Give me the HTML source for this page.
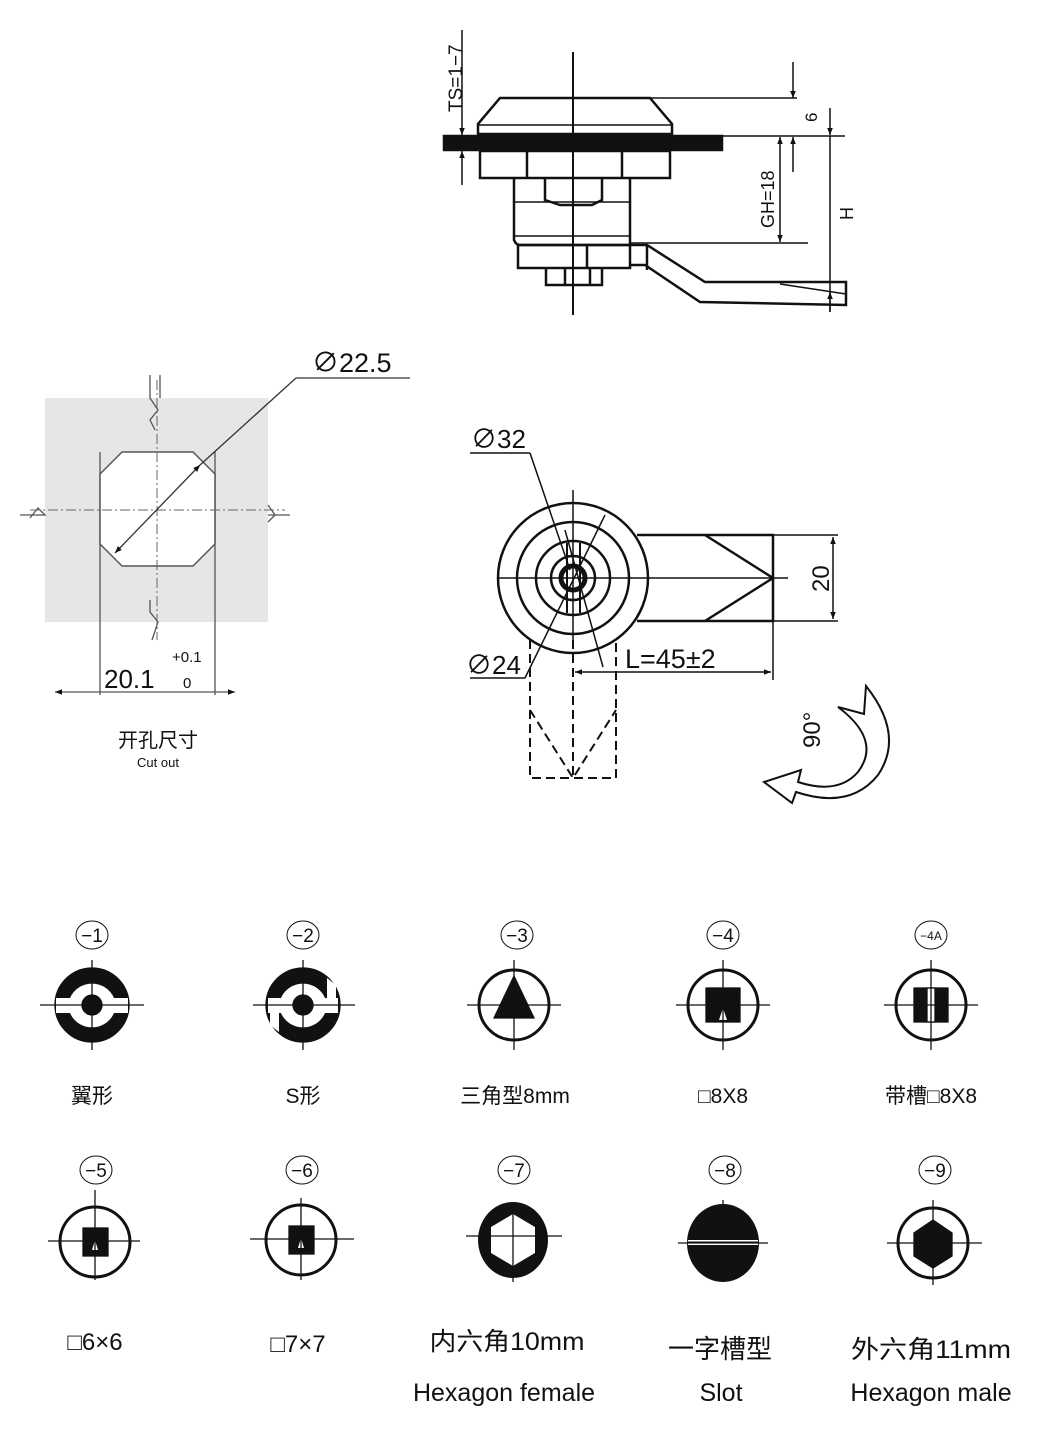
<!DOCTYPE html>
<html><head><meta charset="utf-8"><style>
html,body{margin:0;padding:0;background:#fff}
svg{display:block}
text{font-family:"Liberation Sans","Noto Sans CJK SC",sans-serif;fill:#111}
</style></head><body>
<svg width="1053" height="1444" viewBox="0 0 1053 1444" xmlns="http://www.w3.org/2000/svg">
<defs>
<marker id="a" viewBox="0 0 10 10" refX="10" refY="5" markerWidth="7" markerHeight="9" orient="auto-start-reverse" markerUnits="userSpaceOnUse"><path d="M0,1 L10,5 L0,9 Z" fill="#111"/></marker>
</defs>
<g stroke="#111" fill="none" stroke-width="2.5">
<line x1="573" y1="52" x2="573" y2="315" stroke-width="2"/>
<rect x="444" y="136" width="278" height="14" fill="#111"/>
<path d="M500,98 L650,98 L672,124 L672,134 L478,134 L478,124 Z"/>
<line x1="478" y1="125" x2="672" y2="125" stroke-width="1.5"/>
<rect x="480" y="151" width="190" height="27"/>
<line x1="527" y1="151" x2="527" y2="178"/><line x1="622" y1="151" x2="622" y2="178"/>
<path d="M514,178 L514,240 Q516,245 520,245 L630,245 L630,178"/>
<path d="M545,178 L545,200 L560,205 L592,205 L602,200 L602,178"/>
<line x1="514" y1="202" x2="630" y2="202" stroke-width="1.5"/>
<line x1="514" y1="236" x2="630" y2="236" stroke-width="1.5"/>
<rect x="518" y="245" width="112" height="23"/>
<line x1="587" y1="245" x2="587" y2="268"/>
<path d="M546,268 L546,285 L602,285 L602,268"/>
<line x1="565" y1="268" x2="565" y2="285"/><line x1="590" y1="268" x2="590" y2="285"/>
<path d="M630,245 L647,245 L705,282 L846,282 L846,305 L700,302 L645,265 L630,265"/>
<line x1="647" y1="245" x2="647" y2="270"/>
<line x1="780" y1="284" x2="846" y2="294" stroke-width="1.5"/>
<g stroke-width="1.5">
<line x1="650" y1="98" x2="797" y2="98"/>
<line x1="793" y1="62" x2="793" y2="98" marker-end="url(#a)"/>
<line x1="722" y1="136" x2="845" y2="136"/>
<line x1="793" y1="172" x2="793" y2="137" marker-end="url(#a)"/>
<line x1="780" y1="137" x2="780" y2="242" marker-start="url(#a)" marker-end="url(#a)"/>
<line x1="630" y1="243" x2="808" y2="243"/>
<line x1="830" y1="108" x2="830" y2="135" marker-end="url(#a)"/>
<line x1="830" y1="136" x2="830" y2="312"/>
<line x1="830" y1="312" x2="830" y2="292" marker-end="url(#a)"/>
<line x1="462" y1="30" x2="462" y2="135" marker-end="url(#a)"/>
<line x1="462" y1="185" x2="462" y2="151" marker-end="url(#a)"/>
</g>
</g>
<text transform="translate(462,112) rotate(-90)" font-size="19">TS=1−7</text>
<text transform="translate(817,122) rotate(-90)" font-size="17">6</text>
<text transform="translate(774,228) rotate(-90)" font-size="18">GH=18</text>
<text transform="translate(853,220) rotate(-90)" font-size="18">H</text>

<!-- Cutout -->
<rect x="45" y="398" width="223" height="224" fill="#e6e6e6"/>
<g stroke="#555" fill="none" stroke-width="1.3">
<path d="M150,375 L150,398 L158,410 L150,420 L155,430"/>
<path d="M160,375 L160,398"/>
<path d="M150,600 L150,612 L158,622 L152,640"/>
<path d="M20,515 L45,515 L38,508 L30,518 M268,515 L290,515 M268,505 L275,515 L268,522"/>
<path d="M100,452 L100,695 M215,452 L215,695"/>
<line x1="55" y1="692" x2="235" y2="692" marker-start="url(#a)" marker-end="url(#a)"/>
</g>
<path d="M122,452 L193,452 L215,474 L215,544 L193,566 L122,566 L100,544 L100,474 Z" fill="#fff" stroke="#555" stroke-width="1.5" stroke-linejoin="round"/>
<g stroke="#666" stroke-width="1" stroke-dasharray="10,3,2,3">
<line x1="30" y1="510" x2="285" y2="510"/><line x1="157" y1="380" x2="157" y2="640"/>
</g>
<g stroke="#333" stroke-width="1.3" fill="none">
<line x1="115" y1="553" x2="200" y2="465" marker-start="url(#a)" marker-end="url(#a)"/>
<path d="M200,465 L296,378 L410,378"/>
</g>
<text x="312" y="372" font-size="27" fill="#333">∅22.5</text>
<text x="104" y="688" font-size="26" fill="#333">20.1</text>
<text x="172" y="662" font-size="15" fill="#333">+0.1</text>
<text x="183" y="688" font-size="15" fill="#333">0</text>
<text x="158" y="747" font-size="20" text-anchor="middle">开孔尺寸</text>
<text x="158" y="767" font-size="13" text-anchor="middle">Cut out</text>

<!-- Front view -->
<g stroke="#111" fill="none" stroke-width="2.5">
<circle cx="573" cy="578" r="75"/>
<circle cx="573" cy="578" r="56"/>
<circle cx="573" cy="578" r="37"/>
<circle cx="573" cy="578" r="22"/>
<circle cx="573" cy="578" r="12" stroke-width="5"/>
<path d="M567,543 L567,613 M580,543 L580,613" stroke-width="2"/>
<path d="M637,535 L773,535 L773,621 L637,621"/>
<path d="M705,535 L773,578 L705,621"/>
<g stroke-width="1.5">
<line x1="497" y1="578" x2="788" y2="578"/>
<line x1="573" y1="490" x2="573" y2="640"/>
<line x1="470" y1="453" x2="530" y2="453"/><line x1="530" y1="453" x2="570" y2="570"/>
<line x1="470" y1="678" x2="525" y2="678"/><line x1="525" y1="678" x2="605" y2="515"/>
<line x1="565" y1="530" x2="603" y2="667"/>
<line x1="773" y1="535" x2="838" y2="535"/><line x1="773" y1="621" x2="838" y2="621"/>
<line x1="833" y1="537" x2="833" y2="619" marker-start="url(#a)" marker-end="url(#a)"/>
<line x1="773" y1="621" x2="773" y2="680"/>
<line x1="575" y1="672" x2="771" y2="672" marker-start="url(#a)" marker-end="url(#a)"/>
</g>
<g stroke-dasharray="9,5" stroke-width="2">
<path d="M530,640 L530,778 L616,778 L616,640"/>
<path d="M530,710 L573,778 L616,710"/>
<line x1="573" y1="640" x2="573" y2="778"/>
</g>
<path d="M866,686 L864,714 L838,707 Q882,740 858,772 Q838,795 798,782 L801,770 L764,782 L792,803 L796,792 Q850,810 878,775 Q905,735 866,686 Z" stroke-width="2"/>
</g>
<text x="471" y="448" font-size="26">∅32</text>
<text x="466" y="674" font-size="26">∅24</text>
<text x="625" y="668" font-size="27">L=45±2</text>
<text transform="translate(829,592) rotate(-90)" font-size="24">20</text>
<text transform="translate(820,748) rotate(-90)" font-size="24">90°</text>

<g font-size="16" text-anchor="middle">
<g stroke="#111" fill="none" stroke-width="1">
<ellipse cx="92" cy="935" rx="16" ry="14"/><ellipse cx="303" cy="935" rx="16" ry="14"/><ellipse cx="517" cy="935" rx="16" ry="14"/><ellipse cx="723" cy="935" rx="16" ry="14"/><ellipse cx="931" cy="935" rx="16" ry="14"/>
<ellipse cx="96" cy="1170" rx="16" ry="14"/><ellipse cx="302" cy="1170" rx="16" ry="14"/><ellipse cx="514" cy="1170" rx="16" ry="14"/><ellipse cx="725" cy="1170" rx="16" ry="14"/><ellipse cx="935" cy="1170" rx="16" ry="14"/>
</g>
<text x="92" y="942" font-size="19">−1</text><text x="303" y="942" font-size="19">−2</text><text x="517" y="942" font-size="19">−3</text><text x="723" y="942" font-size="19">−4</text><text x="931" y="940" font-size="12">−4A</text>
<text x="96" y="1177" font-size="19">−5</text><text x="302" y="1177" font-size="19">−6</text><text x="514" y="1177" font-size="19">−7</text><text x="725" y="1177" font-size="19">−8</text><text x="935" y="1177" font-size="19">−9</text>
</g>
<g stroke="#111" stroke-width="1.3">
<circle cx="92" cy="1005" r="37" fill="#111"/>
<path d="M56,998 L70,998 A24,24 0 0 1 114,998 L128,998 L128,1013 L114,1013 A24,24 0 0 1 70,1013 L56,1013 Z" fill="#fff" stroke="none"/>
<circle cx="92" cy="1005" r="10" fill="#111"/>
<line x1="40" y1="1005" x2="144" y2="1005"/><line x1="92" y1="960" x2="92" y2="1050"/>
<circle cx="303" cy="1005" r="37" fill="#111"/>
<path d="M268,998 L281,998 A24,24 0 0 1 325,998 L338,998 L338,1013 L325,1013 A24,24 0 0 1 281,1013 L268,1013 Z" fill="#fff" stroke="none"/>
<path d="M327,978 L336,985 L336,998 L327,998 Z M279,1032 L270,1025 L270,1013 L279,1013 Z" fill="#fff" stroke="none"/>
<circle cx="303" cy="1005" r="10" fill="#111"/>
<line x1="253" y1="1005" x2="355" y2="1005"/><line x1="303" y1="960" x2="303" y2="1050"/>
<circle cx="514" cy="1005" r="35" fill="none" stroke-width="3"/>
<path d="M514,976 L534,1018 L494,1018 Z" fill="#111"/>
<line x1="467" y1="1005" x2="561" y2="1005"/><line x1="514" y1="960" x2="514" y2="1050"/>
<circle cx="723" cy="1005" r="35" fill="none" stroke-width="3"/>
<rect x="706" y="988" width="34" height="34" fill="#111"/>
<path d="M723,1008 L727,1020 L719,1020 Z" fill="#fff" stroke="none"/>
<line x1="676" y1="1005" x2="770" y2="1005"/><line x1="723" y1="960" x2="723" y2="1050"/>
<circle cx="931" cy="1005" r="35" fill="none" stroke-width="3"/>
<rect x="914" y="988" width="34" height="34" fill="#111"/>
<rect x="927" y="988" width="8" height="34" fill="#fff"/>
<line x1="884" y1="1005" x2="978" y2="1005"/><line x1="931" y1="960" x2="931" y2="1050"/>
<circle cx="95" cy="1242" r="35" fill="none" stroke-width="3"/>
<rect x="83" y="1228" width="25" height="28" fill="#111"/>
<path d="M95,1240 L98,1250 L92,1250 Z" fill="#fff" stroke="none"/>
<line x1="48" y1="1241" x2="140" y2="1241"/><line x1="95" y1="1190" x2="95" y2="1280"/>
<circle cx="301" cy="1240" r="35" fill="none" stroke-width="3"/>
<rect x="289" y="1226" width="25" height="28" fill="#111"/>
<path d="M301,1238 L304,1248 L298,1248 Z" fill="#fff" stroke="none"/>
<line x1="250" y1="1239" x2="354" y2="1239"/><line x1="301" y1="1198" x2="301" y2="1280"/>
<ellipse cx="513" cy="1240" rx="35" ry="38" fill="#111" stroke="none"/>
<path d="M513,1214 L535,1227 L535,1253 L513,1266 L491,1253 L491,1227 Z" fill="#fff" stroke="none"/>
<line x1="466" y1="1236" x2="562" y2="1236"/><line x1="513" y1="1214" x2="513" y2="1282"/>
<ellipse cx="723" cy="1243" rx="36" ry="39" fill="#111" stroke="none"/>
<rect x="688" y="1240" width="70" height="5" fill="#fff" stroke="none"/>
<line x1="688" y1="1242" x2="758" y2="1242" stroke-width="1"/>
<line x1="678" y1="1243" x2="768" y2="1243"/><line x1="723" y1="1200" x2="723" y2="1206"/>
<circle cx="933" cy="1243" r="35" fill="none" stroke-width="3"/>
<path d="M933,1220 L952,1233 L952,1256 L933,1268 L914,1256 L914,1233 Z" fill="#111"/>
<line x1="887" y1="1243" x2="982" y2="1243"/><line x1="933" y1="1200" x2="933" y2="1285"/>
</g>
<g text-anchor="middle">
<text x="92" y="1103" font-size="21">翼形</text>
<text x="303" y="1103" font-size="21">S形</text>
<text x="515" y="1103" font-size="21">三角型8mm</text>
<text x="723" y="1103" font-size="21">□8X8</text>
<text x="931" y="1103" font-size="21">带槽□8X8</text>
<text x="95" y="1350" font-size="24">□6×6</text>
<text x="298" y="1352" font-size="24">□7×7</text>
<text x="507" y="1350" font-size="25" textLength="155" lengthAdjust="spacingAndGlyphs">内六角10mm</text>
<text x="720" y="1358" font-size="26">一字槽型</text>
<text x="931" y="1358" font-size="25" textLength="160" lengthAdjust="spacingAndGlyphs">外六角11mm</text>
<text x="504" y="1401" font-size="25">Hexagon female</text>
<text x="721" y="1401" font-size="25">Slot</text>
<text x="931" y="1401" font-size="25">Hexagon male</text>
</g>
</svg>
</body></html>
